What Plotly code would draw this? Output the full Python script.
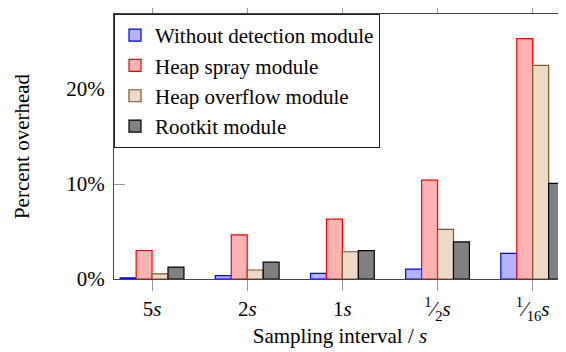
import plotly.graph_objects as go

categories = ["5s", "2s", "1s", "1/2s", "1/16s"]
tick_labels = ["5<i>s</i>", "2<i>s</i>", "1<i>s</i>",
               "<sup>1</sup>⁄<sub>2</sub><i>s</i>",
               "<sup>1</sup>⁄<sub>16</sub><i>s</i>"]
series_names = ["Without detection module", "Heap spray module",
                "Heap overflow module", "Rootkit module"]
without_detection = [0.12, 0.35, 0.6, 1.05, 2.7]
heap_spray = [3.0, 4.65, 6.3, 10.4, 25.3]
heap_overflow = [0.55, 0.95, 2.87, 5.22, 22.5]
rootkit = [1.25, 1.77, 2.98, 3.9, 10.07]

fills = ["#B3B3FF", "#FFB3B3", "#ECD9C6", "#808080"]
edges = ["#0000FF", "#FF0000", "#7A5530", "#000000"]

FONT = "Liberation Serif"
fig = go.Figure()
for name, vals, fc, ec in zip(series_names,
                              [without_detection, heap_spray, heap_overflow, rootkit],
                              fills, edges):
    fig.add_trace(go.Bar(x=categories, y=vals, name=name,
                         marker=dict(color=fc, line=dict(color=ec, width=1.2))))

fig.update_layout(
    width=558, height=344,
    margin=dict(l=106, r=0, t=6, b=73),
    paper_bgcolor="white", plot_bgcolor="white",
    barmode="group", bargap=0.33, bargroupgap=0,
    font=dict(family=FONT, size=21, color="black"),
    legend=dict(x=0, y=1, xanchor="left", yanchor="top",
                bgcolor="white", bordercolor="#222", borderwidth=1,
                font=dict(family=FONT, size=21), tracegroupgap=0),
    xaxis=dict(type="category", categoryorder="array", categoryarray=categories,
               range=[-0.4, 4.35], tickvals=categories, ticktext=tick_labels,
               ticks="outside", ticklen=11, tickcolor="#999", tickwidth=1,
               showline=True, linecolor="#444", linewidth=1, mirror="ticks",
               showgrid=False, zeroline=False, automargin=False,
               title=dict(text="Sampling interval / <i>s</i>", standoff=0,
                          font=dict(family=FONT, size=21))),
    yaxis=dict(range=[0, 27.9], tickvals=[0, 10, 20], ticktext=["0%", "10%", "20%"],
               ticks="inside", ticklen=11, tickcolor="#999", tickwidth=1,
               showline=True, linecolor="#444", linewidth=1, mirror=False,
               showgrid=False, zeroline=False, ticklabelstandoff=4, automargin=False,
               title=dict(text="Percent overhead", standoff=30,
                          font=dict(family=FONT, size=21))),
    yaxis2=dict(range=[0, 27.9], overlaying="y", side="right",
                tickvals=[0, 10, 20], showticklabels=False, automargin=False,
                ticks="inside", ticklen=11, tickcolor="#999", tickwidth=1,
                showline=False, showgrid=False, zeroline=False),
)
fig.write_html("out.html")
